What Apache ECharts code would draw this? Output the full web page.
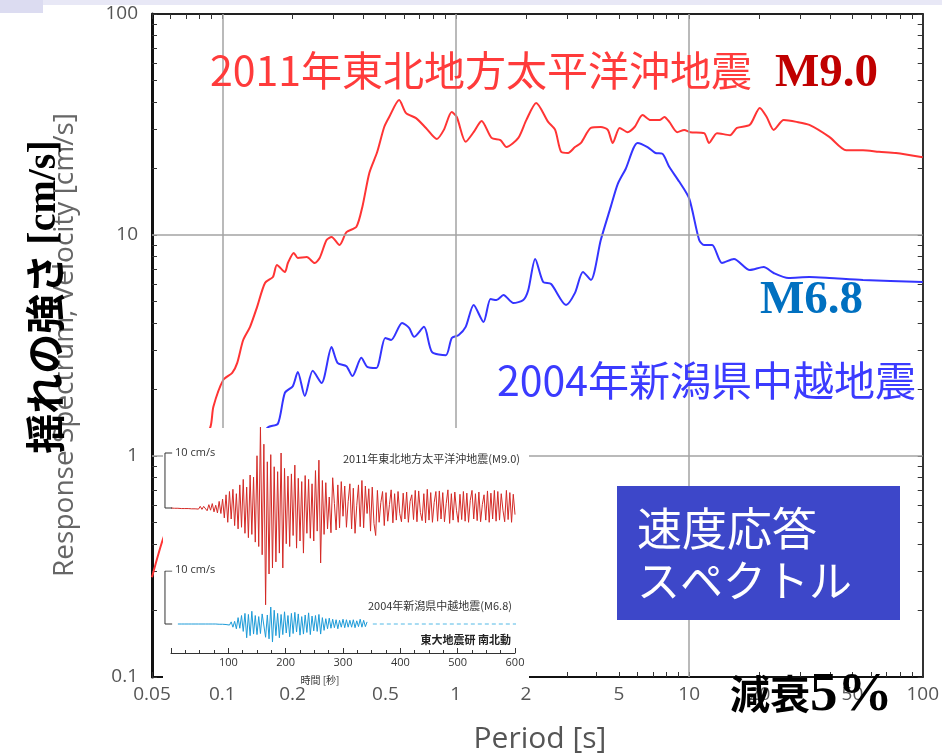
<!DOCTYPE html>
<html>
<head>
<meta charset="utf-8">
<script src="https://cdn.jsdelivr.net/npm/echarts@6/dist/echarts.min.js"></script>
<style>
  html, body { margin: 0; padding: 0; background: #ffffff; }
  #chart { width: 942px; height: 756px; }
</style>
</head>
<body>
<div id="chart"></div>
<script>
// Velocity response spectra (damping 5%) : period [s] -> velocity [cm/s]
const tohokuPeriod = [0.05, 0.0561, 0.0703, 0.0889, 0.0916, 0.101, 0.1103, 0.1159, 0.1229, 0.1315, 0.1409, 0.1524, 0.1648, 0.1714, 0.1854, 0.191, 0.2025, 0.2106, 0.23, 0.2487, 0.2612, 0.2797, 0.2938, 0.3178, 0.3403, 0.3754, 0.398, 0.4264, 0.4611, 0.4938, 0.5187, 0.5721, 0.6127, 0.6757, 0.7453, 0.83, 0.889, 0.961, 1.01, 1.103, 1.193, 1.29, 1.423, 1.554, 1.648, 1.854, 2.005, 2.211, 2.487, 2.665, 2.826, 3.027, 3.241, 3.438, 3.791, 4.18, 4.478, 4.701, 5.037, 5.447, 5.834, 6.31, 6.823, 7.454, 7.829, 8.22, 8.89, 9.52, 10.1, 11.58, 12.16, 13.15, 14.95, 16.01, 18.18, 20.05, 21.47, 23.0, 25.4, 28.8, 32.7, 39.8, 47.0, 55.5, 65.0, 76.8, 100];
const tohokuVelocity = [0.283, 0.43, 0.78, 1.35, 1.67, 2.21, 2.38, 2.64, 3.35, 3.84, 4.72, 6.07, 6.46, 7.32, 6.8, 7.47, 8.29, 7.87, 7.95, 7.47, 7.87, 9.49, 9.79, 9.01, 10.3, 10.9, 13.4, 19.1, 23.8, 30.8, 34.2, 40.8, 35.6, 33.8, 30.5, 27.2, 29.9, 36.0, 34.2, 26.4, 29.2, 32.8, 27.5, 26.9, 25.0, 27.5, 33.1, 39.6, 32.5, 29.9, 23.8, 23.5, 25.0, 26.1, 30.5, 30.8, 29.9, 26.1, 30.5, 29.2, 30.8, 34.9, 33.1, 33.1, 34.2, 32.5, 29.2, 29.9, 29.2, 28.9, 26.1, 28.9, 28.3, 30.5, 31.5, 37.6, 34.2, 29.9, 33.1, 32.5, 31.5, 27.8, 24.2, 24.2, 23.8, 23.5, 22.5];

const chuetsuPeriod = [0.0806, 0.1193, 0.1423, 0.157, 0.1731, 0.1854, 0.2005, 0.2106, 0.2256, 0.2439, 0.2664, 0.2938, 0.3115, 0.3403, 0.3609, 0.3941, 0.418, 0.4566, 0.4987, 0.5288, 0.589, 0.631, 0.663, 0.731, 0.7903, 0.9066, 0.9616, 1.03, 1.103, 1.193, 1.315, 1.409, 1.494, 1.601, 1.765, 1.947, 2.045, 2.189, 2.368, 2.561, 2.967, 3.241, 3.505, 3.791, 4.18, 4.611, 4.939, 5.342, 6.006, 6.627, 7.166, 7.675, 8.22, 9.07, 10.0, 11.03, 11.58, 12.53, 13.82, 15.54, 18.18, 20.85, 23.0, 26.6, 32.7, 39.8, 55.5, 100];
const chuetsuVelocity = [0.338, 0.779, 1.18, 1.35, 1.40, 1.93, 2.07, 2.40, 1.87, 2.43, 2.14, 3.11, 2.64, 2.55, 2.30, 2.78, 2.53, 2.50, 3.42, 3.35, 4.0, 3.80, 3.46, 3.84, 2.96, 2.86, 3.42, 3.53, 3.84, 4.82, 4.04, 5.13, 5.08, 5.35, 4.92, 5.08, 5.64, 7.79, 6.13, 6.0, 4.82, 5.47, 6.8, 6.26, 9.49, 13.4, 17.0, 19.9, 26.1, 25.0, 23.5, 23.3, 20.3, 17.4, 14.6, 9.49, 9.01, 9.01, 7.47, 7.79, 6.94, 7.16, 6.73, 6.39, 6.45, 6.39, 6.26, 6.13];

const periodLabels = [0.05, 0.1, 0.2, 0.5, 1, 2, 5, 10, 20, 50, 100];
const velocityLabels = [0.1, 1, 10, 100];
const periodGrid = [0.1, 1, 10];
const velocityGrid = [1, 10];

// NS velocity seismograms [cm/s], one sample every 3 s
const waveStep = 3;
const tohokuWaveStart = 0;
const tohokuWave = [
  0, 0.05, -0.05, 0.05, -0.05, 0.1, -0.1, 0.1, -0.1, 0.15, -0.1, 0.15, -0.15, 0.2, -0.15, 0.2, -0.2, 0.3, -0.25, 0.3,
  0.4, -0.5, 0.6, -0.4, 0.8, -0.7, 0.5, -0.9, 1.2, -1.0,
  1.6, -1.8, 2.4, -2.6, 3.0, -2.0, 3.4, -3.2, 2.6, -3.8,
  4.2, -3.5, 5.2, -4.6, 3.8, -5.4, 6.0, -4.8, 5.6, -6.2,
  9.5, -7.0, 14.7, -8.5, 11.6, -17.6, 8.4, -12.0, 9.7, -10.9,
  7.5, -9.8, 6.6, -8.2, 10.0, -10.9, 7.2, -6.5, 5.8, -7.0,
  6.2, -5.0, 7.8, -7.3, 5.4, -6.0, 4.8, -8.2, 5.9, -4.6,
  5.2, -5.5, 4.4, -6.0, 6.8, -4.2, 8.7, -10.0, 5.0, -4.8,
  4.6, -3.8, 2.0, -4.5, 5.5, 0.8, -4.0, 4.2, -3.6, 4.8,
  -1.5, 4.0, -3.5, 1.2, 4.4, -3.8, 3.6, -4.6, 0.5, 4.2,
  -3.4, 5.0, -3.6, 4.0, -1.0, 3.5, -4.2, 3.8, -2.8, -5.0,
  3.2, -2.6, 1.0, 3.0, -3.2, 2.8, -2.4, 0.6, 3.3, -2.7,
  2.6, -2.2, 3.0, -1.0, -2.5, 2.7, -2.0, 2.9, -2.6, 1.2,
  2.4, -2.1, 3.2, -2.5, 3.1, -0.8, -2.3, 2.6, -2.7, 3.4,
  -2.2, 2.8, -2.6, 1.0, 3.0, -2.4, 3.1, -2.0, 2.8, -2.5,
  0.8, 3.3, -2.8, 2.6, -2.2, 2.9, -0.5, -2.6, 2.5, -2.1,
  3.0, -2.4, 2.7, -2.6, 1.4, 3.2, -2.0, 2.6, -2.3, 2.9,
  -2.5, 0.6, 2.4, -2.2, 3.1, -2.6, 2.7, -2.0, 3.2, -2.4,
  3.0, -2.2, 2.6, -0.4, -2.5, 3.2, -2.1, 2.8, -2.6, 2.5,
  -1.2
];
const chuetsuWaveStart = 12;
const chuetsuWave = [
  0, 0, 0, 0, 0, 0, 0, 0, 0, 0, 0, 0, 0, 0, 0, 0, 0, 0, 0, 0, 0, 0, 0, 0.05, -0.05, 0.05, -0.05, 0.1, -0.1, 0.15,
  -0.2, 0.4, -0.6, 0.5, -0.9, 1.2, -0.8, 1.6, -1.4, 2.0,
  -2.6, 1.8, -2.2, 2.4, -1.9, 1.6, -2.0, 1.4, -1.8, 1.9,
  2.2, -2.5, 1.7, -2.8, 3.2, -3.4, 2.6, -2.2, 2.0, -2.6,
  1.8, -2.0, 2.3, -1.7, 1.6, -2.4, 2.0, -1.8, 2.2, -1.5,
  1.9, -2.1, 1.4, -1.9, 1.7, -1.6, 2.1, -2.0, 1.5, -1.3,
  1.6, -1.4, 1.8, -1.9, 1.2, -1.2, 1.0, -0.9, 1.1, -0.8,
  0.9, -0.7, 0.8, -0.9, 0.7, -0.6, 0.9, -0.7, 0.8, -0.6,
  0.7, -0.6, 0.8, -0.7, 0.6, -0.5, 0.9, -0.6, 0.7, -0.5,
  0.4
];
const chuetsuTail = [352, 604];          // beyond end of record (dashed)
const scaleBarValue = 10;                // cm/s

// ---------------------------------------------------------------------------
const zip = (xs, ys) => xs.map((x, i) => [x, ys[i]]);
const sampled = (start, vals) => vals.map((v, i) => [start + i * waveStep, v]);

function logTicks(lo, hi) {
  const out = [];
  [0.01, 0.1, 1, 10].forEach(d => {
    for (let k = 1; k <= 9; k++) {
      const v = +(d * k).toPrecision(3);
      if (v >= lo && v <= hi) out.push(v);
    }
  });
  if (hi === 100) out.push(100);
  return out;
}
const xTicks = logTicks(0.05, 100);
const yTicks = logTicks(0.1, 100);
const numFmt = v => String(+(+v).toPrecision(3));

const JP = '"Noto Sans CJK JP", sans-serif';
const SERIF = '"Liberation Serif", "DejaVu Serif", serif';
const SANS = '"Open Sans", "Noto Sans", sans-serif';

const waveLeft = 162.4, waveWidth = 352.6;   // -15 .. 600 s
const timeLeft = 171, timeWidth = 344;       // 0 .. 600 s

const tickStyle = { show: true, inside: true, length: 5, lineStyle: { color: '#333', width: 1 } };
const scaleBar = [[2, scaleBarValue], [-10.5, scaleBarValue], [-10.5, 0], [2, 0]];

const chart = echarts.init(document.getElementById('chart'), null, { renderer: 'canvas' });

chart.setOption({
  animation: false,
  backgroundColor: '#ffffff',
  grid: [
    { left: 152, top: 14, right: 14, bottom: 79 },
    { left: waveLeft, width: waveWidth, top: 398, height: 220 },
    { left: waveLeft, width: waveWidth, top: 571, height: 106 },
    { left: timeLeft, width: timeWidth, top: 600, height: 53 }
  ],
  xAxis: [
    {
      gridIndex: 0, type: 'log', logBase: 10, min: 0.05, max: 100, position: 'bottom',
      axisLine: { show: true, lineStyle: { color: '#111', width: 2 } },
      axisTick: Object.assign({ customValues: xTicks }, tickStyle),
      axisLabel: { customValues: periodLabels, formatter: numFmt, color: '#555', fontSize: 19, fontFamily: SANS, margin: 8 },
      splitLine: { show: false }
    },
    {
      gridIndex: 0, type: 'log', logBase: 10, min: 0.05, max: 100, position: 'top',
      axisLine: { show: true, lineStyle: { color: '#222', width: 2 } },
      axisTick: Object.assign({ customValues: xTicks }, tickStyle),
      axisLabel: { show: false }, splitLine: { show: false }
    },
    { gridIndex: 1, type: 'value', min: -15, max: 600, show: false },
    { gridIndex: 2, type: 'value', min: -15, max: 600, show: false },
    {
      gridIndex: 3, type: 'value', min: 0, max: 600, interval: 100, z: 20,
      axisLine: { show: true, lineStyle: { color: '#333', width: 1 } },
      axisTick: { show: true, inside: true, length: 5, lineStyle: { color: '#333', width: 1 } },
      minorTick: { show: true, splitNumber: 4, length: 3, lineStyle: { color: '#333', width: 1 } },
      axisLabel: { showMinLabel: false, color: '#333', fontSize: 11, fontFamily: SANS, margin: 4 },
      splitLine: { show: false }
    }
  ],
  yAxis: [
    {
      gridIndex: 0, type: 'log', logBase: 10, min: 0.1, max: 100, position: 'left',
      axisLine: { show: true, lineStyle: { color: '#111', width: 3 } },
      axisTick: Object.assign({ customValues: yTicks }, tickStyle),
      axisLabel: { customValues: velocityLabels, formatter: numFmt, color: '#555', fontSize: 19, fontFamily: SANS, margin: 14 },
      splitLine: { show: false }
    },
    {
      gridIndex: 0, type: 'log', logBase: 10, min: 0.1, max: 100, position: 'right',
      axisLine: { show: true, lineStyle: { color: '#333', width: 2 } },
      axisTick: Object.assign({ customValues: yTicks }, tickStyle),
      axisLabel: { show: false }, splitLine: { show: false }
    },
    { gridIndex: 1, type: 'value', min: -20, max: 20, show: false },
    { gridIndex: 2, type: 'value', min: -10, max: 10, show: false },
    { gridIndex: 3, type: 'value', min: 0, max: 1, show: false }
  ],
  series: [
    {
      // decade grid lines
      type: 'line', xAxisIndex: 0, yAxisIndex: 0, z: 1, data: [], showSymbol: false,
      markLine: {
        silent: true, symbol: ['none', 'none'], label: { show: false },
        lineStyle: { color: '#a3a3a3', width: 1.5, type: 'solid' },
        data: periodGrid.map(v => ({ xAxis: v })).concat(velocityGrid.map(v => ({ yAxis: v })))
      }
    },
    {
      name: '2011年東北地方太平洋沖地震', type: 'line', xAxisIndex: 0, yAxisIndex: 0,
      data: zip(tohokuPeriod, tohokuVelocity), showSymbol: false, smooth: 0.25, z: 3,
      lineStyle: { color: '#ff3434', width: 2 }
    },
    {
      name: '2004年新潟県中越地震', type: 'line', xAxisIndex: 0, yAxisIndex: 0,
      data: zip(chuetsuPeriod, chuetsuVelocity), showSymbol: false, smooth: 0.25, z: 3,
      lineStyle: { color: '#3434ff', width: 2 }
    },
    {
      type: 'line', xAxisIndex: 2, yAxisIndex: 2, z: 20, showSymbol: false,
      data: sampled(tohokuWaveStart, tohokuWave),
      lineStyle: { color: '#d42a26', width: 1 }
    },
    {
      type: 'line', xAxisIndex: 2, yAxisIndex: 2, z: 20, showSymbol: false,
      data: scaleBar, lineStyle: { color: '#333', width: 1 }
    },
    {
      type: 'line', xAxisIndex: 3, yAxisIndex: 3, z: 20, showSymbol: false,
      data: sampled(chuetsuWaveStart, chuetsuWave),
      lineStyle: { color: '#1d9bd8', width: 1 }
    },
    {
      type: 'line', xAxisIndex: 3, yAxisIndex: 3, z: 20, showSymbol: false,
      data: chuetsuTail.map(t => [t, 0]),
      lineStyle: { color: '#52b9e6', width: 1, type: [4, 3] }
    },
    {
      type: 'line', xAxisIndex: 3, yAxisIndex: 3, z: 20, showSymbol: false,
      data: scaleBar, lineStyle: { color: '#333', width: 1 }
    }
  ],
  graphic: {
    elements: [
      // band along the top edge
      { type: 'rect', z: 1, shape: { x: 0, y: 0, width: 942, height: 5 }, style: { fill: '#e8e8f6' } },
      { type: 'rect', z: 1, shape: { x: 0, y: 0, width: 43, height: 13 }, style: { fill: '#dcdcf1' } },

      // inset background
      { type: 'rect', z: 10, shape: { x: 163, y: 428, width: 366, height: 258 }, style: { fill: '#ffffff' } },

      // spectrum captions
      { type: 'text', z: 30, x: 210, y: 70, style: { text: '2011年東北地方太平洋沖地震', font: '41px ' + JP, fill: '#ff3b3b', textVerticalAlign: 'middle' } },
      { type: 'text', z: 30, x: 775, y: 74, style: { text: 'M9.0', font: 'bold 47px ' + SERIF, fill: '#c00000', textVerticalAlign: 'middle' } },
      { type: 'text', z: 30, x: 760, y: 301, style: { text: 'M6.8', font: 'bold 47px ' + SERIF, fill: '#0070c0', textVerticalAlign: 'middle' } },
      { type: 'text', z: 30, x: 497, y: 380, style: { text: '2004年新潟県中越地震', font: '41px ' + JP, fill: '#3b3bff', textVerticalAlign: 'middle' } },

      // title box
      { type: 'rect', z: 30, shape: { x: 617, y: 486, width: 283, height: 134 }, style: { fill: '#3d47c9' } },
      { type: 'text', z: 31, x: 637, y: 529, style: { text: '速度応答', font: '45px ' + JP, fill: '#ffffff', textVerticalAlign: 'middle' } },
      { type: 'text', z: 31, x: 637, y: 581, style: { text: 'スペクトル', font: '43px ' + JP, fill: '#ffffff', textVerticalAlign: 'middle' } },

      // damping note
      { type: 'text', z: 40, x: 730, y: 694, style: { text: '減衰', font: 'bold 40px ' + JP, fill: '#000', textVerticalAlign: 'middle' } },
      { type: 'text', z: 40, x: 810, y: 696, style: { text: '5%', font: 'bold 55px ' + SERIF, fill: '#000', textVerticalAlign: 'middle' } },

      // axis titles
      { type: 'text', z: 30, x: 540, y: 739, style: { text: 'Period [s]', font: '30px ' + SANS, fill: '#555', textAlign: 'center', textVerticalAlign: 'middle' } },
      { type: 'text', z: 30, x: 65, y: 345, rotation: Math.PI / 2, style: { text: 'Response Spectrum, Velocity [cm/s]', font: '28px ' + SANS, fill: '#666', textAlign: 'center', textVerticalAlign: 'middle' } },
      {
        type: 'text', z: 31, x: 45, y: 297, rotation: Math.PI / 2,
        style: {
          text: '{a|揺れの強さ }{b|[cm/s]}', textAlign: 'center', textVerticalAlign: 'middle',
          rich: {
            a: { fontFamily: 'Noto Sans CJK JP', fontWeight: 'bold', fontSize: 40, fill: '#000', color: '#000' },
            b: { fontFamily: 'Liberation Serif', fontWeight: 'bold', fontSize: 40, fill: '#000', color: '#000' }
          }
        }
      },

      // inset annotations
      { type: 'text', z: 30, x: 175, y: 453, style: { text: '10 cm/s', font: '11px ' + SANS, fill: '#333', textVerticalAlign: 'middle' } },
      { type: 'text', z: 30, x: 175, y: 570, style: { text: '10 cm/s', font: '11px ' + SANS, fill: '#333', textVerticalAlign: 'middle' } },
      { type: 'text', z: 30, x: 520, y: 459, style: { text: '2011年東北地方太平洋沖地震(M9.0)', font: '11px ' + JP, fill: '#333', textAlign: 'right', textVerticalAlign: 'middle' } },
      { type: 'text', z: 30, x: 512, y: 606, style: { text: '2004年新潟県中越地震(M6.8)', font: '11px ' + JP, fill: '#333', textAlign: 'right', textVerticalAlign: 'middle' } },
      { type: 'text', z: 30, x: 511, y: 640, style: { text: '東大地震研 南北動', font: 'bold 11px ' + JP, fill: '#222', textAlign: 'right', textVerticalAlign: 'middle' } },
      { type: 'text', z: 30, x: 320, y: 680, style: { text: '時間 [秒]', font: '10px ' + JP, fill: '#333', textAlign: 'center', textVerticalAlign: 'middle' } }
    ]
  }
});
</script>
</body>
</html>
